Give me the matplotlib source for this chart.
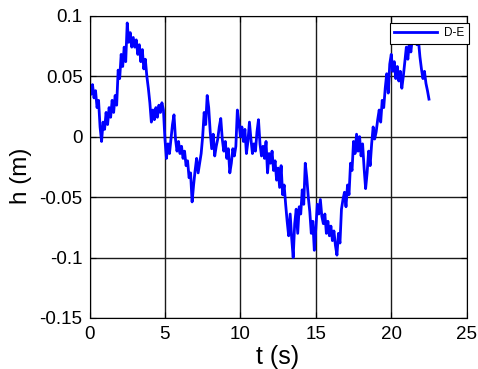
import numpy as np
import matplotlib
matplotlib.use("Agg")
import matplotlib.pyplot as plt

plt.rcParams['font.family'] = ['Liberation Sans', 'DejaVu Sans']
plt.rcParams['axes.unicode_minus'] = False

# sampled displacement record, 0.1 s step
dt = 0.1
h = [
    0.041, 0.035, 0.043, 0.032, 0.038, 0.024, 0.030, 0.008, -0.004, 0.012,
    0.006, 0.020, 0.010, 0.024, 0.016, 0.030, 0.020, 0.034, 0.026, 0.055,
    0.048, 0.068, 0.058, 0.074, 0.062, 0.094, 0.078, 0.086, 0.074, 0.082,
    0.074, 0.080, 0.068, 0.076, 0.062, 0.072, 0.056, 0.064, 0.050, 0.040,
    0.028, 0.012, 0.022, 0.014, 0.024, 0.016, 0.026, 0.020, 0.028, 0.022,
    -0.002, -0.018, -0.006, -0.014, -0.002, 0.010, 0.018, -0.002, -0.012, -0.004,
    -0.014, -0.008, -0.018, -0.012, -0.024, -0.020, -0.034, -0.030, -0.054, -0.040,
    -0.028, -0.018, -0.030, -0.022, -0.014, 0.000, 0.020, 0.010, 0.034, 0.024,
    0.004, -0.010, 0.002, -0.016, -0.008, -0.002, 0.008, 0.015, -0.002, -0.012,
    -0.004, -0.018, -0.010, -0.030, -0.022, -0.010, -0.016, -0.008, 0.022, 0.012,
    0.000, 0.008, -0.004, 0.006, -0.014, -0.004, 0.012, -0.002, -0.014, -0.006,
    -0.012, 0.004, 0.014, -0.006, -0.016, -0.008, -0.018, -0.004, -0.030, -0.014,
    -0.022, -0.012, -0.028, -0.020, -0.036, -0.026, -0.042, -0.024, -0.048, -0.040,
    -0.056, -0.070, -0.082, -0.064, -0.084, -0.100, -0.072, -0.060, -0.080, -0.058,
    -0.064, -0.044, -0.056, -0.022, -0.034, -0.050, -0.062, -0.080, -0.070, -0.094,
    -0.076, -0.056, -0.064, -0.052, -0.066, -0.072, -0.064, -0.080, -0.070, -0.082,
    -0.074, -0.086, -0.078, -0.090, -0.098, -0.080, -0.088, -0.060, -0.052, -0.046,
    -0.058, -0.040, -0.048, -0.022, -0.028, -0.004, -0.014, 0.002, -0.012, 0.000,
    -0.016, -0.006, -0.026, -0.043, -0.030, -0.012, -0.024, -0.006, 0.008, -0.002,
    0.004, 0.014, 0.022, 0.012, 0.030, 0.024, 0.040, 0.052, 0.036, 0.060,
    0.068, 0.054, 0.062, 0.048, 0.058, 0.046, 0.054, 0.040, 0.050, 0.062,
    0.074, 0.064, 0.078, 0.070, 0.082, 0.080, 0.084, 0.076, 0.080, 0.066,
    0.056, 0.048, 0.054, 0.044, 0.038, 0.031,
]
t = np.arange(len(h)) * dt

xticks = [0, 5, 10, 15, 20, 25]
yticks = [-0.15, -0.1, -0.05, 0, 0.05, 0.1]
ytick_labels = ['-0.15', '-0.1', '-0.05', '0', '0.05', '0.1']
series_name = 'D-E'

W, H = 478, 369
fig = plt.figure(figsize=(W / 100, H / 100), dpi=100)
ax = fig.add_axes([89.5 / W, 1 - 318 / H, (466.7 - 89.5) / W, (318 - 15.7) / H])

ax.plot(t, h, color=(0, 0, 1), lw=2.0, label=series_name)

ax.set_xlim(0, 25)
ax.set_ylim(-0.15, 0.1)
ax.set_xticks(xticks)
ax.set_xticklabels([str(v) for v in xticks])
ax.set_yticks(yticks)
ax.set_yticklabels(ytick_labels)
ax.grid(True, color='0.1', lw=1.0, ls='-')
ax.set_axisbelow(True)
ax.tick_params(direction='in', length=4, width=0.8, labelsize=13.5,
               pad=5, top=True, right=True)
ax.tick_params(axis='x', pad=5.5)
for s in ax.spines.values():
    s.set_linewidth(0.8)
    s.set_color('black')

leg = ax.legend(loc='upper right', bbox_to_anchor=(1.006, 0.977), fontsize=8.5,
                borderaxespad=0, handlelength=3.6, handletextpad=0.6,
                borderpad=0.4, fancybox=False, framealpha=1, edgecolor='black')
leg.get_frame().set_linewidth(0.8)

fig.text(21.5 / W, 1 - 176 / H, 'h (m)', rotation=90, ha='center', va='center',
         fontsize=17.5)
fig.text(278 / W, 1 - 357 / H, 't (s)', ha='center', va='center', fontsize=18)

fig.savefig('out.png', dpi=100)
